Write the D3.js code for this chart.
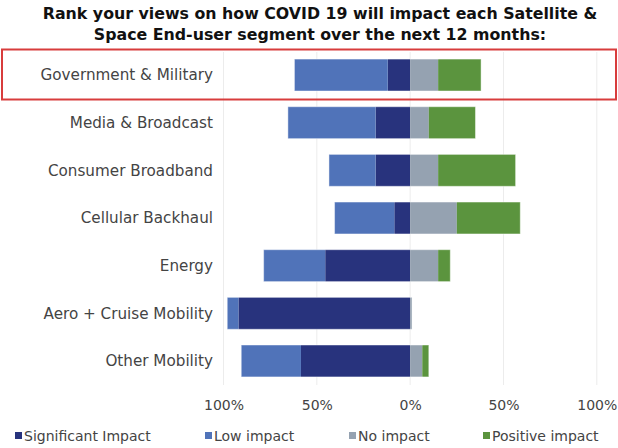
<!DOCTYPE html>
<html>
<head>
<meta charset="utf-8">
<script src="https://cdn.jsdelivr.net/npm/d3@7"></script>
<style>
  html, body { margin: 0; padding: 0; background: #fff; }
  svg { display: block; }
</style>
</head>
<body>
<svg id="chart" width="618" height="448"></svg>
<script>
const categories = ["Government & Military", "Media & Broadcast", "Consumer Broadband", "Cellular Backhaul", "Energy", "Aero + Cruise Mobility", "Other Mobility"];
const significantImpact = [12, 18.5, 18.5, 8.5, 45.5, 92, 58.5];
const lowImpact = [50, 47, 25, 32, 33, 6, 32];
const noImpact = [15, 10, 15, 25, 15, 1, 6.5];
const positiveImpact = [23, 25, 41.5, 34, 6.5, 0, 3.5];
const seriesNames = ["Significant Impact", "Low impact", "No impact", "Positive impact"];
const seriesColors = ["#28337d", "#5073b9", "#95a2b1", "#5b943e"];
const tickValues = [-100, -50, 0, 50, 100];
const tickLabels = ["100%", "50%", "0%", "50%", "100%"];
const titleLines = ["Rank your views on how COVID 19 will impact each Satellite &", "Space End-user segment over the next 12 months:"];

const svg = d3.select("#chart");

const x = d3.scaleLinear().domain([-100, 100]).range([223.5, 596.8]);
const y = d3.scaleBand().domain(categories).range([51.2, 384.8]).paddingInner(0.33).paddingOuter(0.165);

// gridlines
svg.append("g").selectAll("line").data(tickValues).join("line")
  .attr("x1", d => x(d)).attr("x2", d => x(d))
  .attr("y1", 52).attr("y2", 385)
  .attr("stroke", "#ececec").attr("stroke-width", 1);

// bars
const rows = categories.map((c, i) => {
  const sig = significantImpact[i], low = lowImpact[i], no = noImpact[i], pos = positiveImpact[i];
  return [
    { cat: c, s: 0, x0: -sig, x1: 0 },
    { cat: c, s: 1, x0: -sig - low, x1: -sig },
    { cat: c, s: 2, x0: 0, x1: no },
    { cat: c, s: 3, x0: no, x1: no + pos }
  ];
}).flat().filter(d => d.x1 > d.x0);

svg.append("g").selectAll("rect").data(rows).join("rect")
  .attr("x", d => x(d.x0))
  .attr("width", d => x(d.x1) - x(d.x0))
  .attr("y", d => y(d.cat))
  .attr("height", y.bandwidth())
  .attr("fill", d => seriesColors[d.s]);

// bar outlines (light)
const totals = categories.map((c, i) => ({ cat: c, x0: -significantImpact[i] - lowImpact[i], x1: noImpact[i] + positiveImpact[i] }));
svg.append("g").selectAll("rect").data(totals).join("rect")
  .attr("x", d => x(d.x0)).attr("width", d => x(d.x1) - x(d.x0))
  .attr("y", d => y(d.cat)).attr("height", y.bandwidth())
  .attr("fill", "none").attr("stroke", "#ffffff").attr("stroke-opacity", 0.45).attr("stroke-width", 1);

// category labels
svg.append("g").selectAll("text").data(categories).join("text")
  .attr("x", 213)
  .attr("y", d => y(d) + y.bandwidth() / 2)
  .attr("dy", "0.35em")
  .attr("text-anchor", "end")
  .attr("font-family", "DejaVu Sans")
  .attr("font-size", 15.2)
  .attr("fill", "#444")
  .text(d => d);

// x axis tick labels
const xAxis = d3.axisBottom(x).tickValues(tickValues).tickFormat((d, i) => tickLabels[i]).tickSize(0).tickPadding(0);
const ax = svg.append("g").attr("transform", "translate(0,400)").call(xAxis);
ax.select(".domain").remove();
ax.selectAll("text").attr("font-family", "DejaVu Sans").attr("font-size", 14).attr("fill", "#444");

// highlight rectangle
svg.append("rect")
  .attr("x", 2).attr("y", 49.5).attr("width", 614).attr("height", 50)
  .attr("fill", "none").attr("stroke", "#d83c3c").attr("stroke-width", 2);

// title
svg.append("g").selectAll("text").data(titleLines).join("text")
  .attr("x", 320)
  .attr("y", (d, i) => 18.5 + i * 21)
  .attr("text-anchor", "middle")
  .attr("font-family", "DejaVu Sans")
  .attr("font-weight", "bold")
  .attr("font-size", 15.8)
  .attr("fill", "#111")
  .text(d => d);

// legend
const legendX = [15, 205, 349, 483];
const lg = svg.append("g").selectAll("g").data(seriesNames).join("g")
  .attr("transform", (d, i) => `translate(${legendX[i]},0)`);
lg.append("rect").attr("x", 0).attr("y", 432).attr("width", 7).attr("height", 7)
  .attr("fill", (d, i) => seriesColors[i]);
lg.append("text").attr("x", 9).attr("y", 441)
  .attr("font-family", "DejaVu Sans").attr("font-size", 14).attr("fill", "#444")
  .text(d => d);
</script>
</body>
</html>
